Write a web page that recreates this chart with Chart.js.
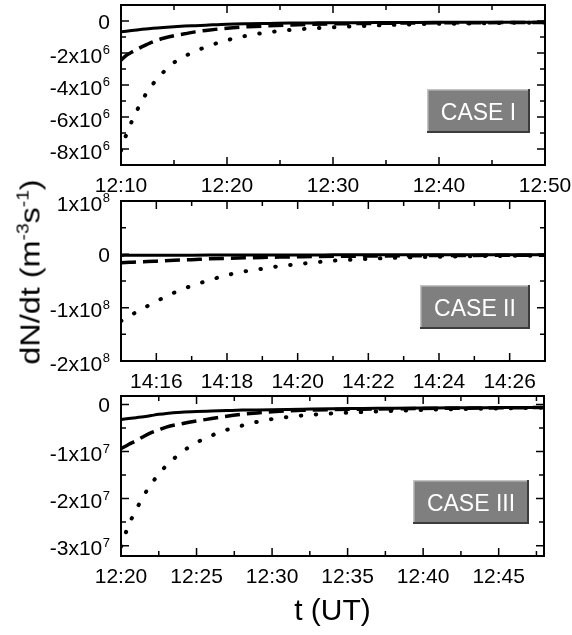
<!DOCTYPE html>
<html lang="en">
<head>
<meta charset="UTF-8">
<title>dN/dt</title>
<style>
  body { margin: 0; background: #fff; }
  #wrap { position: relative; width: 572px; height: 635px; overflow: hidden;
          font-family: "Liberation Sans", Arial, sans-serif; }
  canvas { position: absolute; left: 0; }
  #ytitle { position: absolute; left: 31px; top: 272px; font-size: 27px; line-height: 1;
            white-space: nowrap; transform: translate(-50%, -50%) rotate(-90deg) scale(1.2, 1); }
  #ytitle sup { font-size: 16px; vertical-align: baseline; position: relative; top: -11px; }
</style>
</head>
<body>
<div id="wrap">
  <canvas id="c1" width="572" height="200" style="top:0px"></canvas>
  <canvas id="c2" width="572" height="210" style="top:185px"></canvas>
  <canvas id="c3" width="572" height="250" style="top:385px"></canvas>
  <div id="ytitle">dN/dt (m<sup>-3</sup>s<sup>-1</sup>)</div>
</div>
<script src="https://cdn.jsdelivr.net/npm/chart.js"></script>
<script>
// CASE I : minutes after 12:10
const case1Minutes = [0, 0.5, 1, 1.5, 2, 3, 4, 5, 6, 7, 8, 10, 12, 14, 16, 18, 20, 24, 28, 32, 36, 40];
const case1Solid  = [-0.68e6, -0.64e6, -0.6e6, -0.56e6, -0.52e6, -0.45e6, -0.4e6, -0.36e6, -0.32e6, -0.29e6, -0.26e6, -0.2e6, -0.17e6, -0.15e6, -0.13e6, -0.12e6, -0.11e6, -0.1e6, -0.09e6, -0.08e6, -0.08e6, -0.07e6];
const case1Dashed = [-2.45e6, -2.15e6, -1.95e6, -1.77e6, -1.6e6, -1.3e6, -1.08e6, -0.92e6, -0.8e6, -0.68e6, -0.59e6, -0.45e6, -0.36e6, -0.3e6, -0.25e6, -0.21e6, -0.18e6, -0.15e6, -0.12e6, -0.11e6, -0.1e6, -0.09e6];
const case1Dotted = [-8.1e6, -7.1e6, -6.3e6, -5.6e6, -4.95e6, -3.95e6, -3.2e6, -2.6e6, -2.2e6, -1.9e6, -1.62e6, -1.2e6, -0.9e6, -0.7e6, -0.56e6, -0.46e6, -0.39e6, -0.28e6, -0.2e6, -0.16e6, -0.12e6, -0.1e6];
const case1XTicks = [0, 10, 20, 30, 40];
const case1XLabels = ['12:10', '12:20', '12:30', '12:40', '12:50'];
const case1XMinor = [5, 15, 25, 35];
const case1YTicks = [0, -2e6, -4e6, -6e6, -8e6];
const case1YLabels = ['0', '-2x10^6', '-4x10^6', '-6x10^6', '-8x10^6'];
const case1YMinor = [-1e6, -3e6, -5e6, -7e6];

// CASE II : minutes after 14:15
const case2Minutes = [0, 0.25, 0.5, 0.75, 1, 1.5, 2, 2.5, 3, 3.5, 4, 4.5, 5, 5.5, 6, 7, 8, 9, 10, 11, 12];
const case2Solid  = [-0.02e8, -0.019e8, -0.018e8, -0.018e8, -0.017e8, -0.016e8, -0.015e8, -0.014e8, -0.013e8, -0.013e8, -0.012e8, -0.012e8, -0.011e8, -0.011e8, -0.01e8, -0.01e8, -0.009e8, -0.009e8, -0.008e8, -0.008e8, -0.008e8];
const case2Dashed = [-0.16e8, -0.15e8, -0.14e8, -0.135e8, -0.128e8, -0.113e8, -0.1e8, -0.085e8, -0.075e8, -0.066e8, -0.058e8, -0.052e8, -0.047e8, -0.042e8, -0.038e8, -0.032e8, -0.027e8, -0.023e8, -0.02e8, -0.018e8, -0.016e8];
const case2Dotted = [-1.25e8, -1.15e8, -1.06e8, -0.97e8, -0.88e8, -0.72e8, -0.59e8, -0.485e8, -0.39e8, -0.32e8, -0.27e8, -0.22e8, -0.185e8, -0.15e8, -0.12e8, -0.085e8, -0.06e8, -0.045e8, -0.035e8, -0.028e8, -0.022e8];
const case2XTicks = [1, 3, 5, 7, 9, 11];
const case2XLabels = ['14:16', '14:18', '14:20', '14:22', '14:24', '14:26'];
const case2XMinor = [2, 4, 6, 8, 10];
const case2YTicks = [1e8, 0, -1e8, -2e8];
const case2YLabels = ['1x10^8', '0', '-1x10^8', '-2x10^8'];
const case2YMinor = [0.5e8, -0.5e8, -1.5e8];

// CASE III : minutes after 12:20
const case3Minutes = [0, 0.5, 1, 1.5, 2, 2.5, 3, 4, 5, 6, 7, 8, 9, 10, 12, 14, 16, 18, 20, 22, 24, 26, 28];
const case3Solid  = [-0.32e7, -0.3e7, -0.28e7, -0.26e7, -0.235e7, -0.21e7, -0.19e7, -0.165e7, -0.15e7, -0.14e7, -0.13e7, -0.12e7, -0.115e7, -0.11e7, -0.1e7, -0.09e7, -0.085e7, -0.08e7, -0.075e7, -0.07e7, -0.068e7, -0.065e7, -0.062e7];
const case3Dashed = [-0.94e7, -0.85e7, -0.77e7, -0.68e7, -0.6e7, -0.54e7, -0.48e7, -0.41e7, -0.35e7, -0.3e7, -0.25e7, -0.21e7, -0.18e7, -0.155e7, -0.125e7, -0.11e7, -0.1e7, -0.09e7, -0.085e7, -0.08e7, -0.075e7, -0.07e7, -0.065e7];
const case3Dotted = [-3.02e7, -2.57e7, -2.24e7, -1.94e7, -1.69e7, -1.48e7, -1.3e7, -1.02e7, -0.81e7, -0.66e7, -0.54e7, -0.45e7, -0.37e7, -0.31e7, -0.235e7, -0.19e7, -0.16e7, -0.135e7, -0.115e7, -0.1e7, -0.09e7, -0.08e7, -0.07e7];
const case3XTicks = [0, 5, 10, 15, 20, 25];
const case3XLabels = ['12:20', '12:25', '12:30', '12:35', '12:40', '12:45'];
const case3XMinor = [2.5, 7.5, 12.5, 17.5, 22.5, 27.5];
const case3YTicks = [0, -1e7, -2e7, -3e7];
const case3YLabels = ['0', '-1x10^7', '-2x10^7', '-3x10^7'];
const case3YMinor = [-0.5e7, -1.5e7, -2.5e7];

const FONT = '"Liberation Sans", Arial, sans-serif';

// frame, inward ticks, tick labels and the CASE box
const framePlugin = {
    id: 'frame',
    afterDatasetsDraw(chart, args, o) {
        const ctx = chart.ctx, a = chart.chartArea;
        const xs = chart.scales.x, ys = chart.scales.y;
        ctx.save();
        ctx.strokeStyle = '#000';
        ctx.lineWidth = 1.5;
        ctx.beginPath();
        const xTick = (v, len) => {
            const px = xs.getPixelForValue(v);
            ctx.moveTo(px, a.bottom); ctx.lineTo(px, a.bottom - len);
            ctx.moveTo(px, a.top); ctx.lineTo(px, a.top + len);
        };
        const yTick = (v, len) => {
            const py = ys.getPixelForValue(v);
            ctx.moveTo(a.left, py); ctx.lineTo(a.left + len, py);
            ctx.moveTo(a.right, py); ctx.lineTo(a.right - len, py);
        };
        o.xTicks.forEach(v => xTick(v, 8));
        o.xMinor.forEach(v => xTick(v, 5));
        o.yTicks.forEach(v => yTick(v, 8));
        o.yMinor.forEach(v => yTick(v, 5));
        ctx.stroke();
        ctx.lineWidth = 2;
        ctx.strokeRect(a.left, a.top, a.right - a.left, a.bottom - a.top);

        ctx.fillStyle = '#000';
        ctx.font = '21px ' + FONT;
        ctx.textAlign = 'center';
        ctx.textBaseline = 'alphabetic';
        o.xTicks.forEach((v, i) => ctx.fillText(o.xLabels[i], xs.getPixelForValue(v), a.bottom + 27));

        const right = a.left - 11;
        o.yTicks.forEach((v, i) => {
            const py = ys.getPixelForValue(v);
            const parts = o.yLabels[i].split('^');
            if (parts.length === 1) {
                ctx.font = '21px ' + FONT;
                ctx.textAlign = 'right';
                ctx.fillText(parts[0], right, py + 7.5);
                return;
            }
            ctx.font = '13px ' + FONT;
            const ew = ctx.measureText(parts[1]).width;
            ctx.textAlign = 'left';
            ctx.fillText(parts[1], right - ew, py + 9.5 - 8.5);
            ctx.font = '21px ' + FONT;
            ctx.textAlign = 'right';
            ctx.fillText(parts[0], right - ew - 0.5, py + 9.5);
        });

        if (o.xTitle) {
            ctx.font = '30px ' + FONT;
            ctx.textAlign = 'center';
            ctx.fillText(o.xTitle, (a.left + a.right) / 2, a.bottom + 64);
        }

        // CASE label box
        ctx.font = '23px ' + FONT;
        const tw = ctx.measureText(o.caseText).width;
        const bw = Math.round(tw + 28), bh = 44;
        const bx = a.right - 15 - bw;
        const by = Math.round(a.top + 0.66 * (a.bottom - a.top) - bh / 2);
        ctx.fillStyle = '#7f7f7f';
        ctx.fillRect(bx, by, bw, bh);
        ctx.fillStyle = '#c4c4c4';
        ctx.fillRect(bx, by, bw, 1.5);
        ctx.fillRect(bx, by, 1.5, bh);
        ctx.fillStyle = '#3c3c3c';
        ctx.fillRect(bx, by + bh - 2, bw, 2);
        ctx.fillRect(bx + bw - 2, by, 2, bh);
        ctx.fillStyle = '#fff';
        ctx.textAlign = 'center';
        ctx.fillText(o.caseText, bx + bw / 2, by + bh / 2 + 8.5);
        ctx.restore();
    }
};

function series(xs, ys, style) {
    const ds = {
        data: xs.map((x, i) => ({x: x, y: ys[i]})),
        borderColor: '#000',
        pointRadius: 0,
        cubicInterpolationMode: 'monotone',
        fill: false
    };
    if (style === 'solid') {
        ds.borderWidth = 3;
    } else if (style === 'dashed') {
        ds.borderWidth = 3.5;
        ds.borderDash = [15, 7];
    } else {
        ds.borderWidth = 4;
        ds.borderDash = [0.5, 14.5];
        ds.borderCapStyle = 'round';
    }
    return ds;
}

function makePanel(id, p) {
    new Chart(document.getElementById(id), {
        type: 'line',
        data: {
            datasets: [
                series(p.minutes, p.dotted, 'dotted'),
                series(p.minutes, p.dashed, 'dashed'),
                series(p.minutes, p.solid, 'solid')
            ]
        },
        options: {
            responsive: false,
            animation: false,
            devicePixelRatio: 1,
            layout: { padding: { left: 0, right: p.padRight, top: p.padTop, bottom: 0 } },
            plugins: {
                legend: { display: false },
                tooltip: { enabled: false },
                frame: {
                    xTicks: p.xTicks, xLabels: p.xLabels, xMinor: p.xMinor,
                    yTicks: p.yTicks, yLabels: p.yLabels, yMinor: p.yMinor,
                    caseText: p.caseText, xTitle: p.xTitle
                }
            },
            scales: {
                x: {
                    type: 'linear', min: p.xMin, max: p.xMax,
                    ticks: { display: false },
                    grid: { display: false, drawTicks: false },
                    border: { display: false },
                    afterFit: s => { s.height = p.xAxisH; }
                },
                y: {
                    type: 'linear', min: p.yMin, max: p.yMax,
                    ticks: { display: false },
                    grid: { display: false, drawTicks: false },
                    border: { display: false },
                    afterFit: s => { s.width = 121; }
                }
            }
        },
        plugins: [framePlugin]
    });
}

makePanel('c1', {
    minutes: case1Minutes, solid: case1Solid, dashed: case1Dashed, dotted: case1Dotted,
    xMin: 0, xMax: 40, yMin: -9e6, yMax: 1e6,
    xTicks: case1XTicks, xLabels: case1XLabels, xMinor: case1XMinor,
    yTicks: case1YTicks, yLabels: case1YLabels, yMinor: case1YMinor,
    caseText: 'CASE I', padTop: 5, padRight: 27, xAxisH: 35
});
makePanel('c2', {
    minutes: case2Minutes, solid: case2Solid, dashed: case2Dashed, dotted: case2Dotted,
    xMin: 0, xMax: 12, yMin: -2e8, yMax: 1e8,
    xTicks: case2XTicks, xLabels: case2XLabels, xMinor: case2XMinor,
    yTicks: case2YTicks, yLabels: case2YLabels, yMinor: case2YMinor,
    caseText: 'CASE II', padTop: 16, padRight: 27, xAxisH: 34
});
makePanel('c3', {
    minutes: case3Minutes, solid: case3Solid, dashed: case3Dashed, dotted: case3Dotted,
    xMin: 0, xMax: 28, yMin: -3.22e7, yMax: 0.18e7,
    xTicks: case3XTicks, xLabels: case3XLabels, xMinor: case3XMinor,
    yTicks: case3YTicks, yLabels: case3YLabels, yMinor: case3YMinor,
    caseText: 'CASE III', xTitle: 't (UT)', padTop: 11, padRight: 28, xAxisH: 79
});
</script>
</body>
</html>
